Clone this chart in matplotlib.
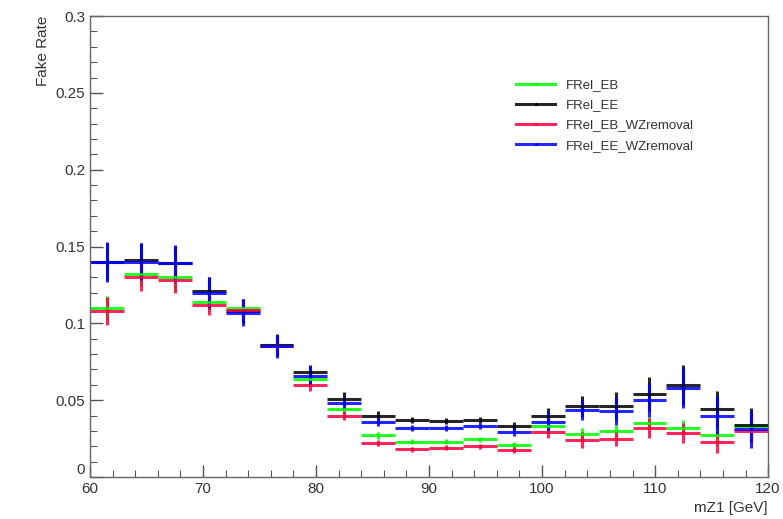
import matplotlib
matplotlib.use("Agg")
import matplotlib.pyplot as plt
import numpy as np
from matplotlib.ticker import MultipleLocator
from matplotlib.lines import Line2D

plt.rcParams['font.family'] = ['Liberation Sans', 'DejaVu Sans']

bin_edges = np.arange(60, 121, 3)
bin_centers = (bin_edges[:-1] + bin_edges[1:]) / 2
bin_halfwidth = 1.5

fr_eb = [0.110, 0.132, 0.130, 0.114, 0.110, 0.086, 0.064, 0.044, 0.027, 0.023,
         0.023, 0.0245, 0.021, 0.033, 0.028, 0.030, 0.035, 0.032, 0.027, 0.033]
fr_eb_err = [0.008, 0.008, 0.008, 0.006, 0.006, 0.005, 0.004, 0.003, 0.002, 0.0015,
             0.0015, 0.0015, 0.002, 0.004, 0.004, 0.004, 0.004, 0.005, 0.005, 0.005]
fr_ee = [0.140, 0.141, 0.1395, 0.121, 0.108, 0.086, 0.068, 0.051, 0.040, 0.037,
         0.0365, 0.037, 0.033, 0.040, 0.046, 0.046, 0.054, 0.060, 0.044, 0.034]
fr_ee_err = [0.012, 0.011, 0.011, 0.009, 0.008, 0.007, 0.005, 0.004, 0.003, 0.002,
             0.002, 0.002, 0.003, 0.005, 0.007, 0.009, 0.011, 0.013, 0.012, 0.011]
fr_eb_wz = [0.108, 0.130, 0.1285, 0.112, 0.1087, 0.085, 0.060, 0.040, 0.022, 0.018,
            0.019, 0.020, 0.0175, 0.0295, 0.024, 0.025, 0.032, 0.0285, 0.0225, 0.030]
fr_eb_wz_err = [0.009, 0.009, 0.0085, 0.0065, 0.006, 0.005, 0.004, 0.003, 0.002, 0.0015,
                0.0015, 0.0015, 0.002, 0.004, 0.005, 0.005, 0.0065, 0.0065, 0.007, 0.006]
fr_ee_wz = [0.140, 0.140, 0.139, 0.120, 0.107, 0.085, 0.066, 0.048, 0.036, 0.032,
            0.032, 0.033, 0.0295, 0.036, 0.0435, 0.043, 0.050, 0.058, 0.040, 0.031]
fr_ee_wz_err = [0.013, 0.012, 0.012, 0.010, 0.009, 0.0075, 0.006, 0.004, 0.003, 0.002,
                0.002, 0.002, 0.003, 0.007, 0.0065, 0.009, 0.011, 0.013, 0.013, 0.012]

labels = ['FRel_EB', 'FRel_EE', 'FRel_EB_WZremoval', 'FRel_EE_WZremoval']
colors = ['#00ff00', '#000000', '#ff0040', '#0000ff']

fig = plt.figure(figsize=(7.83, 5.19), dpi=100)
ax = fig.add_axes([0.115, 0.081, 0.866, 0.888])

series = [(fr_eb, fr_eb_err), (fr_ee, fr_ee_err), (fr_eb_wz, fr_eb_wz_err), (fr_ee_wz, fr_ee_wz_err)]
for (vals, errs), c, lab in zip(series, colors, labels):
    ax.errorbar(bin_centers, vals, xerr=bin_halfwidth, yerr=errs, fmt='.', color=c,
                ecolor=c, elinewidth=2.2, markersize=2.5, capsize=0, alpha=0.85)

ax.set_xlim(60, 120)
ax.set_ylim(0, 0.3)
ax.xaxis.set_major_locator(MultipleLocator(10))
ax.xaxis.set_minor_locator(MultipleLocator(2))
ax.yaxis.set_major_locator(MultipleLocator(0.05))
ax.yaxis.set_minor_locator(MultipleLocator(0.01))
ax.tick_params(which='both', direction='in', colors='#555555', labelcolor='#333333',
               labelsize=11, top=False, right=False)
ax.tick_params(which='major', length=9, width=1)
ax.tick_params(which='minor', length=5, width=0.8)
ax.set_yticks([0, 0.05, 0.1, 0.15, 0.2, 0.25, 0.3])
ax.set_yticklabels(['0', '0.05', '0.1', '0.15', '0.2', '0.25', '0.3'])
ylabs = ax.get_yticklabels()
ylabs[0].set_verticalalignment('bottom')
for s in ax.spines.values():
    s.set_color('#666666')
    s.set_linewidth(1.0)

ax.set_ylabel('Fake Rate', fontsize=11, color='#333333', loc='top')
ax.set_xlabel('mZ1 [GeV]', fontsize=11, color='#333333', loc='right')

handles = [Line2D([], [], color=c, lw=2.2, marker='.', markersize=2.5, alpha=0.85) for c in colors]
leg = ax.legend(handles, labels, loc='upper left', bbox_to_anchor=(0.62, 0.875), frameon=False,
                fontsize=9.5, handlelength=3.0, labelspacing=0.6, borderaxespad=0)
for t in leg.get_texts():
    t.set_color('#333333')

fig.savefig('out.png', dpi=100)
